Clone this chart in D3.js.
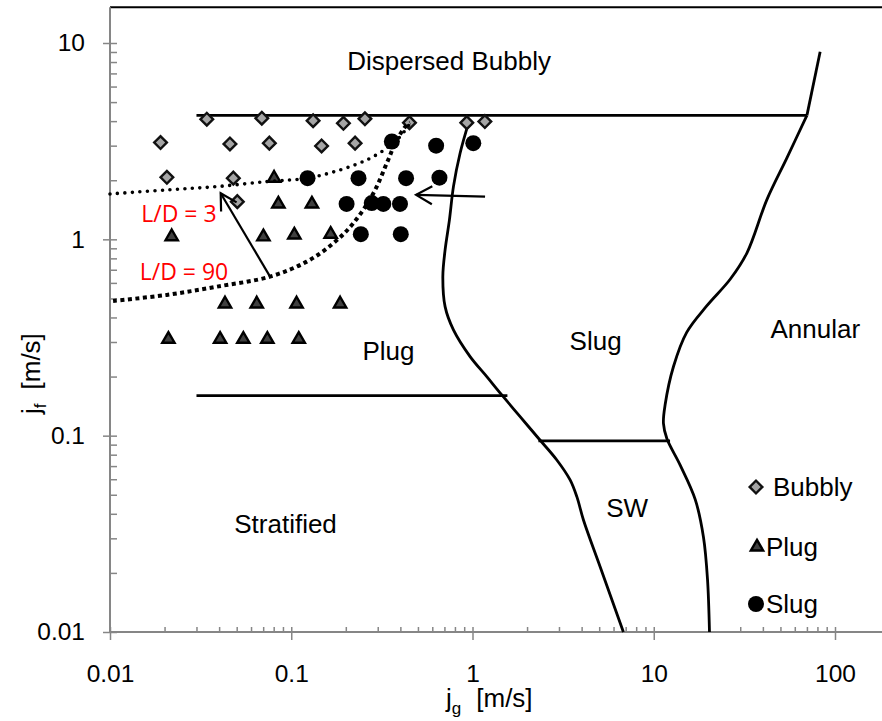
<!DOCTYPE html>
<html><head><meta charset="utf-8">
<script src="https://cdn.jsdelivr.net/npm/d3@7"></script>
<style>body{margin:0;background:#fff} svg{display:block}</style>
</head><body>
<svg id="chart" width="882" height="721"></svg>
<script>
// ---------- DATA ----------
const xTicks = [0.01, 0.1, 1, 10, 100];
const xTickLabels = ["0.01", "0.1", "1", "10", "100"];
const yTicks = [0.01, 0.1, 1, 10];
const yTickLabels = ["0.01", "0.1", "1", "10"];

const seriesNames = ["Bubbly", "Plug", "Slug"];

const bubblyJg = [0.0342, 0.0688, 0.132, 0.194, 0.255, 0.449, 0.93, 1.17, 0.0190, 0.0459, 0.0757, 0.147, 0.225, 0.0206, 0.0479, 0.0504];
const bubblyJf = [4.09, 4.14, 4.02, 3.90, 4.11, 3.93, 3.93, 3.98, 3.11, 3.06, 3.09, 2.99, 3.09, 2.07, 2.05, 1.556];

const plugJg = [0.0804, 0.0849, 0.130, 0.0219, 0.0702, 0.104, 0.165, 0.0431, 0.0645, 0.107, 0.186, 0.0210, 0.0405, 0.0544, 0.0738, 0.110];
const plugJf = [2.05, 1.515, 1.515, 1.032, 1.03, 1.053, 1.062, 0.469, 0.469, 0.469, 0.469, 0.310, 0.310, 0.310, 0.310, 0.310];

const slugJg = [0.123, 0.202, 0.359, 0.630, 1.01, 0.235, 0.430, 0.657, 0.278, 0.322, 0.398, 0.242, 0.402];
const slugJf = [2.05, 1.515, 3.15, 3.00, 3.09, 2.05, 2.05, 2.06, 1.53, 1.515, 1.515, 1.062, 1.062];

// flow-regime boundaries [jg, jf]
const dispersedLine = [[0.030, 4.28], [70, 4.28]];
const annularTop = [[70, 4.28], [82.8, 9.03]];
const annularCurve = [[70, 4.28], [54.3, 2.60], [42.1, 1.594], [32.7, 0.854], [26.4, 0.626], [19.6, 0.458], [15.2, 0.336], [12.85, 0.225], [11.56, 0.144], [11.31, 0.1155], [11.81, 0.0967], [13.99, 0.0708], [16.93, 0.0474], [18.81, 0.0304], [19.79, 0.01864], [20.3, 0.01]];
const slugCurve = [[0.962, 4.06], [0.854, 2.745], [0.785, 1.856], [0.746, 1.256], [0.706, 0.883], [0.686, 0.646], [0.706, 0.454], [0.785, 0.3456], [0.970, 0.2527], [1.199, 0.1998], [1.451, 0.1612], [1.831, 0.125], [2.311, 0.097], [2.919, 0.0752], [3.456, 0.0595], [3.764, 0.0489], [4.094, 0.0372], [5.06, 0.0215], [6.80, 0.01]];
const stratifiedLine = [[0.030, 0.16], [1.558, 0.16]];
const swLine = [[2.31, 0.094], [12.3, 0.094]];

// entrance-length transition curves
const ld3Curve = [[0.01, 1.703], [0.02056, 1.785], [0.0388, 1.856], [0.0732, 1.968], [0.1218, 2.048], [0.186, 2.257], [0.261, 2.538], [0.3365, 2.912], [0.3985, 3.336], [0.4524, 3.903]];
const ld90Curve = [[0.0104, 0.4855], [0.02056, 0.521], [0.0388, 0.574], [0.0764, 0.646], [0.1218, 0.770], [0.1707, 0.955], [0.2201, 1.208], [0.2839, 1.717], [0.3365, 2.442], [0.3821, 3.209], [0.4340, 3.826], [0.4524, 3.93]];

const arrowFrom = [[0.0764, 0.646], [1.173, 1.650]];
const arrowTo = [[0.0408, 1.717], [0.4884, 1.684]];

const regionNames = ["Dispersed Bubbly", "Plug", "Slug", "Annular", "Stratified", "SW"];
const regionAt = [[0.743, 7.30], [0.344, 0.243], [4.78, 0.273], [77.8, 0.3146], [0.093, 0.0319], [7.13, 0.0385]];

const ldNames = ["L/D = 3", "L/D = 90"];
const ldAt = [[0.0240, 1.227], [0.0256, 0.621]];

// ---------- CHART ----------
const svg = d3.select("#chart");
const FONT = "'Liberation Sans', Arial, sans-serif";
const x = d3.scaleLog().domain([0.01, 100]).range([110, 835]);
const y = d3.scaleLog().domain([0.01, 10]).range([632, 43]);
const xMax = x.invert(882), yMax = y.invert(7.3);
const axisColor = "#868686";

// top border
svg.append("line").attr("x1", x(0.01)).attr("x2", x(xMax)).attr("y1", y(yMax)).attr("y2", y(yMax))
  .attr("stroke", "#000").attr("stroke-width", 2);

function minorTicks(lo, hi) {
  const out = [];
  for (let p = lo; p < hi; p *= 10) for (let k = 2; k <= 9; k++) out.push(p * k);
  return out;
}

// Y axis
const gy = svg.append("g").attr("transform", `translate(${x(0.01)},0)`);
gy.call(d3.axisLeft(y).tickValues(minorTicks(0.01, 10)).tickSize(-7).tickFormat(""));
gy.select(".domain").remove();
const gy2 = svg.append("g").attr("transform", `translate(${x(0.01)},0)`);
gy2.call(d3.axisLeft(y).tickValues(yTicks).tickFormat((d, i) => yTickLabels[i]).tickSize(7).tickPadding(18));
gy2.select(".domain").remove();
gy2.selectAll(".tick line").attr("x1", 7);
[gy, gy2].forEach(g => g.selectAll(".tick line").attr("stroke", axisColor).attr("stroke-width", 1.5));
gy2.selectAll(".tick text").attr("font-family", FONT).attr("font-size", 24.5).attr("fill", "#000");
svg.append("line").attr("x1", x(0.01)).attr("x2", x(0.01)).attr("y1", y(0.01)).attr("y2", y(yMax))
  .attr("stroke", axisColor).attr("stroke-width", 2);

// X axis
const gx = svg.append("g").attr("transform", `translate(0,${y(0.01)})`);
gx.call(d3.axisBottom(x).tickValues(minorTicks(0.01, 100)).tickSize(-5).tickFormat(""));
gx.select(".domain").remove();
const gx2 = svg.append("g").attr("transform", `translate(0,${y(0.01)})`);
gx2.call(d3.axisBottom(x).tickValues(xTicks).tickFormat((d, i) => xTickLabels[i]).tickSize(8).tickPadding(25));
gx2.select(".domain").remove();
gx2.selectAll(".tick line").attr("y1", -5);
[gx, gx2].forEach(g => g.selectAll(".tick line").attr("stroke", axisColor).attr("stroke-width", 1.5));
gx2.selectAll(".tick text").attr("font-family", FONT).attr("font-size", 24.5).attr("fill", "#000");
svg.append("line").attr("x1", x(0.01)).attr("x2", x(xMax)).attr("y1", y(0.01)).attr("y2", y(0.01))
  .attr("stroke", axisColor).attr("stroke-width", 2);

// axis titles
const xt = svg.append("text").attr("x", 446).attr("y", 707).attr("font-family", FONT).attr("font-size", 26);
xt.append("tspan").text("j");
xt.append("tspan").attr("font-size", 17).attr("dy", 7).text("g");
xt.append("tspan").attr("dy", -7).attr("dx", 15).text("[m/s]");

const yt = svg.append("text").attr("transform", "translate(40,414) rotate(-90)").attr("font-family", FONT).attr("font-size", 26);
yt.append("tspan").text("j");
yt.append("tspan").attr("font-size", 17).attr("dy", 6).text("f");
yt.append("tspan").attr("dy", -6).attr("dx", 14).text("[m/s]");

// boundaries
const lineGen = d3.line().x(d => x(d[0])).y(d => y(d[1]));
const smooth = d3.line().x(d => x(d[0])).y(d => y(d[1])).curve(d3.curveCatmullRom.alpha(0.5));
[dispersedLine, annularTop, stratifiedLine, swLine].forEach(d => {
  svg.append("path").attr("d", lineGen(d)).attr("fill", "none").attr("stroke", "#000").attr("stroke-width", 2.8);
});
[annularCurve, slugCurve].forEach(d => {
  svg.append("path").attr("d", smooth(d)).attr("fill", "none").attr("stroke", "#000").attr("stroke-width", 2.8);
});

// markers
const diamond = d3.symbol().type(d3.symbolSquare).size(80);
const tri = d3.symbol().type(d3.symbolTriangle).size(66);
svg.append("g").selectAll("path").data(bubblyJg.map((v, i) => [v, bubblyJf[i]])).join("path")
  .attr("d", diamond).attr("transform", d => `translate(${x(d[0])},${y(d[1])}) rotate(45)`)
  .attr("fill", "#a5a5a5").attr("stroke", "#111").attr("stroke-width", 2.4);
svg.append("g").selectAll("path").data(plugJg.map((v, i) => [v, plugJf[i]])).join("path")
  .attr("d", tri).attr("transform", d => `translate(${x(d[0])},${y(d[1])})`)
  .attr("fill", "#404040").attr("stroke", "#000").attr("stroke-width", 2.4);
svg.append("g").selectAll("circle").data(slugJg.map((v, i) => [v, slugJf[i]])).join("circle")
  .attr("cx", d => x(d[0])).attr("cy", d => y(d[1])).attr("r", 8).attr("fill", "#000");

// dotted L/D curves
svg.append("path").attr("d", smooth(ld3Curve)).attr("fill", "none").attr("stroke", "#000")
  .attr("stroke-width", 3.6).attr("stroke-linecap", "round").attr("stroke-dasharray", "0 7.5");
svg.append("path").attr("d", smooth(ld90Curve)).attr("fill", "none").attr("stroke", "#000")
  .attr("stroke-width", 4).attr("stroke-dasharray", "4 3.5");

// arrows
svg.append("defs").append("marker").attr("id", "openArrow").attr("markerUnits", "userSpaceOnUse")
  .attr("viewBox", "-20 -12 24 24").attr("refX", 0).attr("refY", 0)
  .attr("markerWidth", 24).attr("markerHeight", 24).attr("orient", "auto")
  .append("path").attr("d", "M-16,-9 L0,0 L-16,9").attr("fill", "none").attr("stroke", "#000").attr("stroke-width", 2.2);
arrowFrom.forEach((f, i) => {
  svg.append("line").attr("x1", x(f[0])).attr("y1", y(f[1])).attr("x2", x(arrowTo[i][0])).attr("y2", y(arrowTo[i][1]))
    .attr("stroke", "#000").attr("stroke-width", 2.2).attr("marker-end", "url(#openArrow)");
});

// region labels
svg.append("g").selectAll("text").data(regionNames).join("text")
  .attr("x", (d, i) => x(regionAt[i][0])).attr("y", (d, i) => y(regionAt[i][1]))
  .attr("text-anchor", "middle").attr("font-family", FONT).attr("font-size", 26).attr("fill", "#000").text(d => d);

svg.append("g").selectAll("text").data(ldNames).join("text")
  .attr("x", (d, i) => x(ldAt[i][0])).attr("y", (d, i) => y(ldAt[i][1]))
  .attr("text-anchor", "middle").attr("font-family", "'Open Sans', sans-serif").attr("font-size", 23).attr("fill", "#ff0000").text(d => d);

// legend
const lg = svg.append("g");
lg.append("path").attr("d", diamond).attr("transform", "translate(756,487) rotate(45)")
  .attr("fill", "#a5a5a5").attr("stroke", "#111").attr("stroke-width", 2.4);
lg.append("path").attr("d", tri).attr("transform", "translate(757,547)")
  .attr("fill", "#404040").attr("stroke", "#000").attr("stroke-width", 2.4);
lg.append("circle").attr("cx", 756).attr("cy", 604).attr("r", 8).attr("fill", "#000");
const legendX = [773, 766, 766], legendY = [496, 556, 613];
lg.selectAll("text").data(seriesNames).join("text")
  .attr("x", (d, i) => legendX[i]).attr("y", (d, i) => legendY[i])
  .attr("font-family", FONT).attr("font-size", 26).attr("fill", "#000").text(d => d);
</script>
</body></html>
